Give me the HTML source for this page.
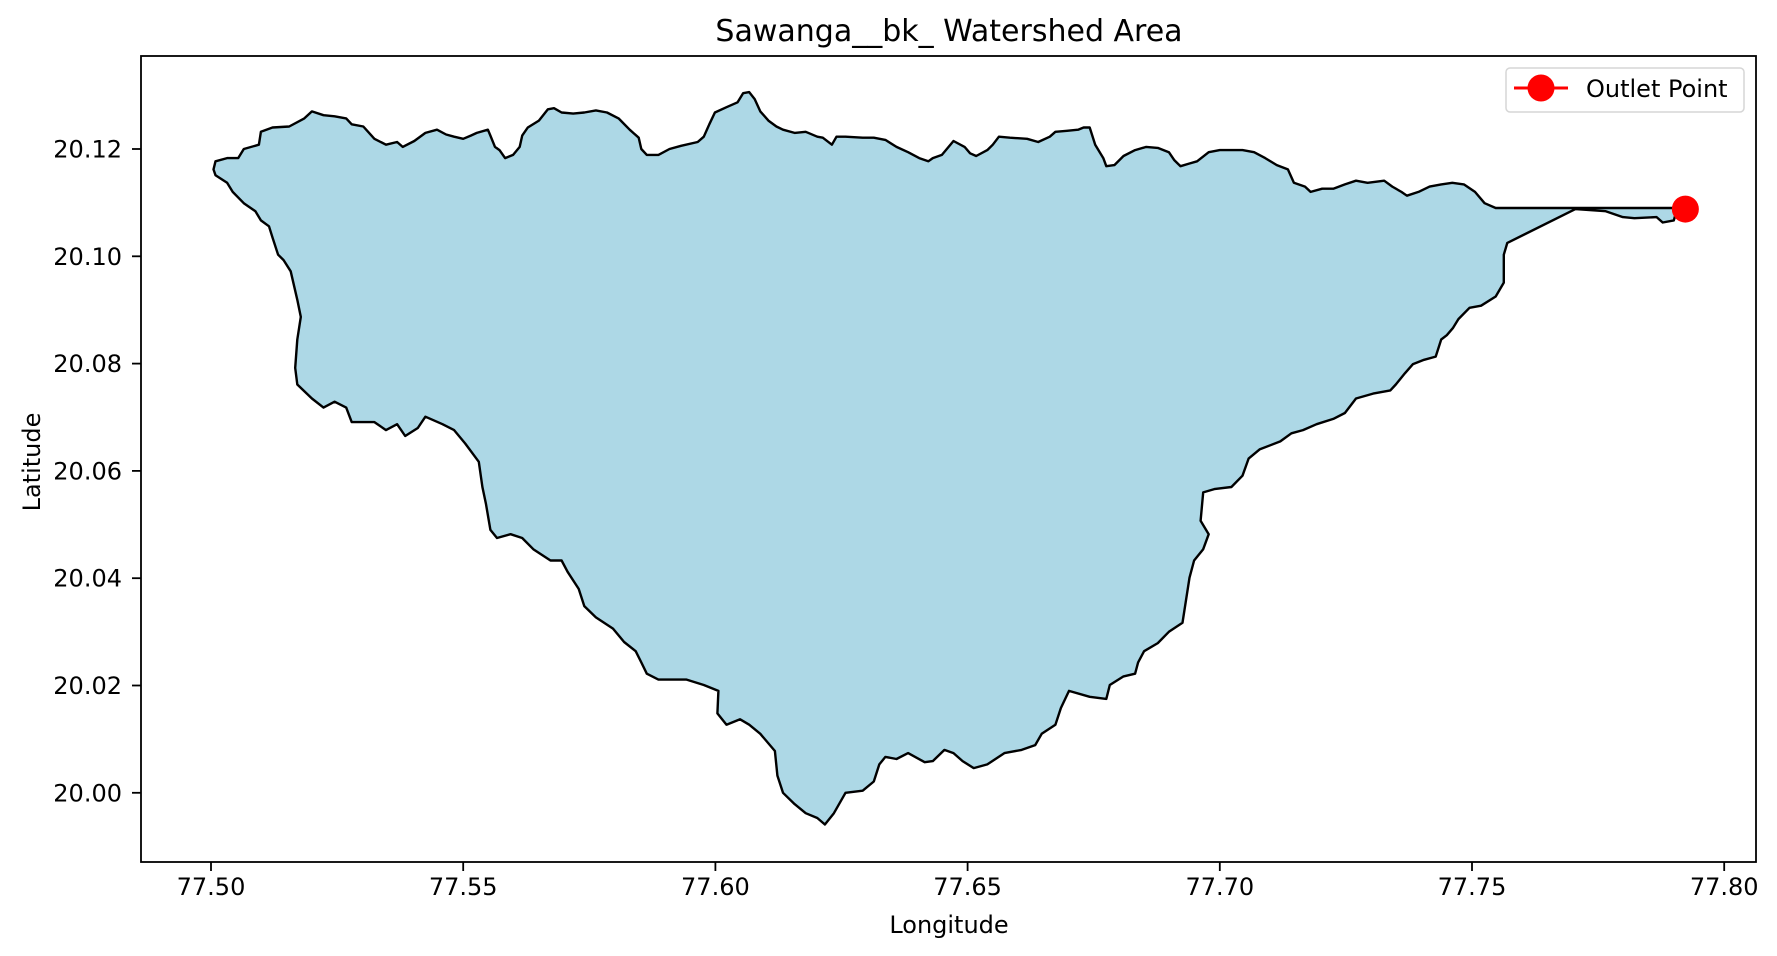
<!DOCTYPE html>
<html><head><meta charset="utf-8"><style>
body{margin:0;background:#fff}
svg{display:block;font-family:"DejaVu Sans","Liberation Sans",sans-serif}
</style></head><body>
<svg id="chart" width="1777" height="956" viewBox="0 0 1777 956">
<rect x="0" y="0" width="1777" height="956" fill="#fff"/>
<g id="plot"></g>
<text x="949" y="41" font-size="30" text-anchor="middle" fill="#000">Sawanga__bk_ Watershed Area</text>
<text x="949" y="933" font-size="24" text-anchor="middle" fill="#000">Longitude</text>
<text x="40" y="462" font-size="24" text-anchor="middle" fill="#000" transform="rotate(-90 40 462)">Latitude</text>
<g>
<rect x="1506" y="68" width="238" height="44" rx="4" fill="#fff" stroke="#d6d6d6" stroke-width="1.5"/>
<line x1="1514" y1="88" x2="1568" y2="88" stroke="#f00" stroke-width="3"/>
<circle cx="1541" cy="88" r="13.5" fill="#f00"/>
<text x="1586" y="97" font-size="24" fill="#000">Outlet Point</text>
</g>
</svg>
<script>
const lonPts=[77.5005,77.5009,77.5032,77.5054,77.5065,77.5095,77.5099,77.5122,77.5155,77.5185,77.5200,77.5223,77.5245,77.5268,77.5279,77.5302,77.5324,77.5347,77.5369,77.5380,77.5403,77.5425,77.5448,77.5466,77.5482,77.5500,77.5515,77.5527,77.5549,77.5554,77.5563,77.5572,77.5583,77.5599,77.5612,77.5617,77.5628,77.5650,77.5668,77.5680,77.5695,77.5718,77.5740,77.5763,77.5785,77.5808,77.5830,77.5848,77.5853,77.5864,77.5887,77.5909,77.5932,77.5965,77.5977,77.5988,77.5999,77.6022,77.6044,77.6055,77.6067,77.6078,77.6089,77.6105,77.6121,77.6134,77.6157,77.6179,77.6202,77.6213,77.6231,77.6240,77.6258,77.6292,77.6314,77.6337,77.6359,77.6382,77.6404,77.6422,77.6431,77.6449,77.6472,77.6494,77.6505,77.6517,77.6539,77.6550,77.6562,77.6584,77.6618,77.6640,77.6663,77.6674,77.6697,77.6719,77.6730,77.6742,77.6753,77.6769,77.6775,77.6791,77.6809,77.6832,77.6854,77.6877,77.6899,77.6910,77.6922,77.6940,77.6955,77.6978,77.7000,77.7023,77.7045,77.7068,77.7090,77.7113,77.7135,77.7147,77.7169,77.7180,77.7203,77.7225,77.7248,77.7270,77.7293,77.7326,77.7342,77.7360,77.7371,77.7394,77.7416,77.7439,77.7461,77.7484,77.7506,77.7525,77.7547,77.7907,77.7900,77.7878,77.7866,77.7822,77.7799,77.7765,77.7705,77.7570,77.7563,77.7563,77.7547,77.7518,77.7495,77.7473,77.7462,77.7450,77.7439,77.7428,77.7405,77.7383,77.7367,77.7349,77.7338,77.7304,77.7270,77.7248,77.7225,77.7192,77.7165,77.7142,77.7120,77.7079,77.7057,77.7045,77.7023,77.6989,77.6967,77.6962,77.6978,77.6967,77.6949,77.6940,77.6933,77.6926,77.6899,77.6877,77.6850,77.6838,77.6832,77.6809,77.6782,77.6775,77.6742,77.6701,77.6685,77.6674,77.6647,77.6634,77.6607,77.6573,77.6539,77.6512,77.6490,77.6472,77.6454,77.6431,77.6415,77.6382,77.6359,77.6337,77.6325,77.6314,77.6292,77.6258,77.6235,77.6217,77.6202,77.6179,77.6157,77.6134,77.6123,77.6118,77.6089,77.6067,77.6049,77.6022,77.6004,77.6006,77.5977,77.5943,77.5887,77.5864,77.5853,77.5842,77.5819,77.5797,77.5763,77.5740,77.5729,77.5707,77.5695,77.5673,77.5639,77.5617,77.5594,77.5567,77.5554,77.5545,77.5538,77.5531,77.5504,77.5482,77.5459,77.5425,77.5410,77.5385,77.5369,77.5347,77.5324,77.5279,77.5268,77.5245,77.5223,77.5200,77.5171,77.5167,77.5171,77.5178,77.5171,77.5158,77.5144,77.5133,77.5122,77.5115,77.5099,77.5088,77.5065,77.5043,77.5032,77.5009];
const latPts=[20.1162,20.1177,20.1183,20.1183,20.1200,20.1208,20.1232,20.1240,20.1242,20.1257,20.1270,20.1263,20.1261,20.1257,20.1246,20.1242,20.1219,20.1208,20.1213,20.1204,20.1215,20.1230,20.1236,20.1227,20.1223,20.1219,20.1225,20.1230,20.1236,20.1225,20.1204,20.1198,20.1183,20.1189,20.1204,20.1225,20.1240,20.1253,20.1274,20.1276,20.1268,20.1266,20.1268,20.1272,20.1268,20.1257,20.1236,20.1221,20.1200,20.1189,20.1189,20.1200,20.1206,20.1213,20.1223,20.1246,20.1268,20.1278,20.1287,20.1304,20.1306,20.1293,20.1270,20.1253,20.1242,20.1236,20.1230,20.1232,20.1223,20.1221,20.1208,20.1223,20.1223,20.1221,20.1221,20.1217,20.1204,20.1194,20.1183,20.1177,20.1183,20.1189,20.1215,20.1204,20.1192,20.1187,20.1198,20.1208,20.1223,20.1221,20.1219,20.1213,20.1223,20.1232,20.1234,20.1236,20.1240,20.1240,20.1208,20.1183,20.1168,20.1170,20.1187,20.1198,20.1204,20.1202,20.1194,20.1179,20.1168,20.1173,20.1177,20.1194,20.1198,20.1198,20.1198,20.1194,20.1183,20.1170,20.1162,20.1137,20.1130,20.1120,20.1126,20.1126,20.1134,20.1141,20.1137,20.1141,20.1130,20.1120,20.1113,20.1120,20.1130,20.1134,20.1137,20.1134,20.1120,20.1099,20.1090,20.1090,20.1067,20.1063,20.1073,20.1071,20.1073,20.1084,20.1088,20.1025,20.1003,20.0951,20.0925,20.0908,20.0904,20.0883,20.0866,20.0853,20.0845,20.0813,20.0807,20.0799,20.0782,20.0761,20.0750,20.0744,20.0735,20.0708,20.0697,20.0687,20.0676,20.0670,20.0655,20.0640,20.0623,20.0591,20.0570,20.0566,20.0560,20.0507,20.0482,20.0454,20.0433,20.0401,20.0359,20.0317,20.0300,20.0279,20.0264,20.0243,20.0222,20.0217,20.0201,20.0175,20.0179,20.0190,20.0158,20.0127,20.0110,20.0089,20.0080,20.0074,20.0053,20.0046,20.0059,20.0074,20.0080,20.0059,20.0057,20.0074,20.0063,20.0067,20.0053,20.0021,20.0004,20.0000,19.9962,19.9941,19.9953,19.9962,19.9979,20.0000,20.0032,20.0078,20.0110,20.0127,20.0137,20.0127,20.0148,20.0190,20.0201,20.0211,20.0211,20.0222,20.0243,20.0264,20.0281,20.0306,20.0327,20.0348,20.0380,20.0412,20.0433,20.0433,20.0454,20.0475,20.0482,20.0475,20.0490,20.0539,20.0570,20.0617,20.0651,20.0676,20.0687,20.0701,20.0680,20.0665,20.0687,20.0676,20.0691,20.0691,20.0718,20.0729,20.0718,20.0735,20.0761,20.0792,20.0845,20.0887,20.0919,20.0972,20.0993,20.1003,20.1035,20.1056,20.1067,20.1084,20.1099,20.1120,20.1137,20.1151];
const outletLon=[77.7923];
const outletLat=[20.1088];
const xTicks=[77.50,77.55,77.60,77.65,77.70,77.75,77.80];
const xTickLabels=["77.50","77.55","77.60","77.65","77.70","77.75","77.80"];
const yTicks=[20.00,20.02,20.04,20.06,20.08,20.10,20.12];
const yTickLabels=["20.00","20.02","20.04","20.06","20.08","20.10","20.12"];

const AX={l:141,r:1756,t:56,b:862};
function xs(v){return 211+(v-77.5)/0.05*252.2;}
function ys(v){return 149+(20.12-v)/0.02*107.3;}
const NS='http://www.w3.org/2000/svg';
const plot=document.getElementById('plot');
function mk(tag,attrs){const e=document.createElementNS(NS,tag);for(const k in attrs)e.setAttribute(k,attrs[k]);return e;}

let d='';
for(let i=0;i<lonPts.length;i++){d+=(i?'L':'M')+xs(lonPts[i]).toFixed(1)+' '+ys(latPts[i]).toFixed(1);}
d+='Z';
const poly=mk('path',{d:d,fill:'#add8e6',stroke:'#000','stroke-width':'2.4','stroke-linejoin':'round'});


plot.appendChild(poly);

for(let i=0;i<outletLon.length;i++){
  const c=mk('circle',{cx:xs(outletLon[i]),cy:ys(outletLat[i]),r:13.5,fill:'#f00'});
  
  
  plot.appendChild(c);
}

const frame=mk('rect',{x:AX.l,y:AX.t,width:AX.r-AX.l,height:AX.b-AX.t,fill:'none',stroke:'#000','stroke-width':'1.8'});


plot.appendChild(frame);

for(let i=0;i<xTicks.length;i++){
  const x=xs(xTicks[i]);
  const t=mk('line',{x1:x,y1:AX.b,x2:x,y2:AX.b+9,stroke:'#000','stroke-width':'1.8'});
  
  
  plot.appendChild(t);
  const lb=mk('text',{x:x,y:AX.b+33,'font-size':'24','text-anchor':'middle',fill:'#000'});
  lb.textContent=xTickLabels[i];
  
  
  plot.appendChild(lb);
}
for(let i=0;i<yTicks.length;i++){
  const y=ys(yTicks[i]);
  const t=mk('line',{x1:AX.l-9,y1:y,x2:AX.l,y2:y,stroke:'#000','stroke-width':'1.8'});
  
  
  plot.appendChild(t);
  const lb=mk('text',{x:AX.l-19,y:y+8.5,'font-size':'24','text-anchor':'end',fill:'#000'});
  lb.textContent=yTickLabels[i];
  
  
  plot.appendChild(lb);
}
</script>
</body></html>
